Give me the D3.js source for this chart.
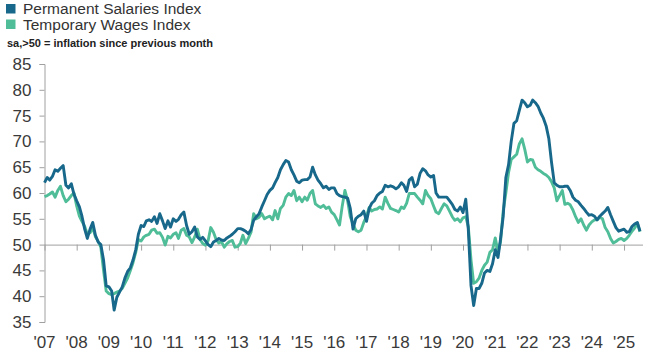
<!DOCTYPE html>
<html>
<head>
<meta charset="utf-8">
<script src="https://cdn.jsdelivr.net/npm/d3@7"></script>
<style>
  html, body { margin: 0; padding: 0; background: #fff; }
  svg { display: block; font-family: "Liberation Sans", Arial, sans-serif; }
</style>
</head>
<body>
<svg id="chart" width="666" height="357"></svg>
<script>
// ---- data (monthly, starting Jan 2007) ----
const startYear = 2007;
const startMonth = 0;
const seriesNames = ["Permanent Salaries Index", "Temporary Wages Index"];
const subtitle = "sa,>50 = inflation since previous month";
const yTicks = [35, 40, 45, 50, 55, 60, 65, 70, 75, 80, 85];
const tickYears = [2007,2008,2009,2010,2011,2012,2013,2014,2015,2016,2017,2018,2019,2020,2021,2022,2023,2024,2025];
const tickLabels = ["'07","'08","'09","'10","'11","'12","'13","'14","'15","'16","'17","'18","'19","'20","'21","'22","'23","'24","'25"];

const permanent = [
  62, 63, 62.5, 63.2, 64.5, 64.2, 64.8, 65.3, 61.5, 61, 61.8, 59.8,
  58.5, 57.3, 55.5, 53, 51.2, 53, 54.3, 51.8, 50.5, 50, 47, 42,
  41.8, 41, 37.3, 39.8, 40.8, 41.8, 43.5, 44.8, 45.5, 47, 49, 52,
  53.7, 53.5, 54.6, 54.8, 54.5, 55.4, 54.1, 56, 54.6, 53.1, 54.6, 53.4,
  55, 54.5, 54.9, 55.8, 56.3, 53.7, 52, 52.5, 53.4, 51.5, 51, 51.4,
  50.7, 50, 49.6, 50.5, 50.8, 51.2, 50.9, 50.8, 51.3, 51.6, 52, 52.5,
  53.1, 53.1, 52.9, 52.6, 52.1, 52.9, 54.7, 55.4, 56, 57.3, 58.5, 59.7,
  60.5, 61, 62, 63, 64.5, 65.5, 66.3, 66, 64.5, 63.5, 62.3, 62,
  62.5, 62.6, 62.6, 63.1, 65, 63.5, 62.5, 61.8, 61, 61.3, 60.7, 61,
  61, 59.9, 59.5, 59.3, 59.2, 59, 57, 53, 55, 55.5, 55.8, 56.5,
  54.5, 57, 58, 58.5, 59.5, 60, 60.3, 61.5, 61.2, 61.4, 61.2, 60.8,
  61.2, 62, 61.5, 60.3, 62.5, 63, 61.2, 61.7, 63.8, 64.7, 64.3, 63.5,
  63.1, 63.4, 60, 59.2, 59.2, 59.2, 59.2, 58.5, 57.8, 56.8, 56.5, 57.3,
  56.2, 58.8, 53, 42, 38.2, 41.5, 41.5, 42.5, 44.5, 45, 44.8, 46.3,
  49, 47.5, 51, 55.5, 63, 65.5, 70, 73.5, 74, 76, 78, 77.5,
  76.7, 77, 78, 77.5, 76.8, 75.5, 74.5, 73, 70.5, 66, 62, 61.5,
  61.2, 61.2, 61.3, 61.3, 60.5, 59.2, 58.6, 58.3, 57.6, 57, 56.3, 55.7,
  55.8, 55.5, 54.8, 55.5, 56, 56.5, 57.2, 55.8, 54.5, 53.3, 52.6, 52.8,
  53, 52.4, 52.5, 53.5, 54, 54.3, 52.6
];

const temporary = [
  59.3, 59.5, 59.8, 60.2, 59.2, 60.5, 61.3, 59.5, 58.3, 58.8, 59.5, 60,
  57.5, 55.5, 54.5, 53.5, 52, 52.3, 53.3, 51.5, 50.6, 49.5, 45, 41,
  40.5, 40.3, 40.5, 40.8, 41, 41.5, 42.5, 43.5, 45, 46.5, 48.5, 51,
  50.7, 51.5, 51.8, 52, 52.8, 53, 52.2, 52.3, 51.4, 49.9, 51.6, 51.3,
  52, 52.3, 51.2, 52.8, 53.1, 51.8, 51.5, 50.4, 51.5, 53, 51, 50.2,
  49.9, 50.8, 53.3, 52.4, 51, 50.3, 50.6, 49.5, 50.2, 50.6, 50.8, 49.5,
  49.6, 50.3, 51.8, 50.2, 51.2, 52.4, 56, 55, 55.3, 56, 55, 55.3,
  55.5, 54.8, 56.6, 55, 57, 57.6, 59.2, 59.9, 59.5, 60.5, 58.5, 59.2,
  58.3, 59.2, 58.6, 59.9, 60.5, 57.9, 57.5, 57.2, 57.6, 57, 57.3, 56.3,
  55.8, 54.8, 53.8, 57.5, 60.5, 58.5, 55.4, 54, 52.8, 52.5, 52.8, 54.3,
  55.5, 57.2, 56.5, 56.8, 56.9, 57.3, 56.9, 59.2, 58, 57, 56.8, 56.6,
  56.3, 57.3, 57, 58, 59.9, 59.9, 59.9, 59.2, 58.6, 57.9, 60.5, 59.5,
  58.9, 57.5, 56.3, 56, 57, 57.9, 57.5, 56.5, 55.4, 54.7, 55, 54.4,
  55.2, 55.4, 53.5, 47, 42.5, 42.8, 43.5, 45, 46, 46.6, 48.5, 49,
  51.3, 48.5, 50.5, 56.5, 60, 64, 66.5, 67, 67.5, 69.5, 70.5, 68.5,
  66, 66.5, 66.4, 65, 64.5, 64.2, 63.8, 63.5, 63, 62.2, 61, 58.5,
  59.5, 60.5, 57.8, 58, 57.7, 56.7, 55.4, 54.3, 55, 53.8, 52.8, 53.8,
  54.4, 54.8, 54.8, 55.3, 55, 53.3, 52.5, 51.2, 50.3, 50.6, 51, 51.2,
  50.8, 51.2, 51.8, 52.6, 53.2, 54.1, 52.5
];

const colors = ["#17688a", "#4fbd98"];

// ---- chart ----
const svg = d3.select("#chart");
const monthDate = i => new Date(startYear, startMonth + i, 1);
const n = permanent.length;

const x = d3.scaleTime()
  .domain([monthDate(0), monthDate(n - 1)])
  .range([44.5, 640]);
const y = d3.scaleLinear().domain([35, 85]).range([322, 64]);

const axisColor = "#a0a0a0";
const textColor = "#3a3a3a";

// Y axis
const yAxis = svg.append("g").attr("transform", "translate(44.5,0)")
  .call(d3.axisLeft(y).tickValues(yTicks).tickSize(5).tickPadding(8));
yAxis.select(".domain").attr("stroke", axisColor);
yAxis.selectAll(".tick line").attr("stroke", axisColor);
yAxis.selectAll(".tick text")
  .attr("fill", textColor)
  .style("font-size", "17px")
  .style("font-family", "'Liberation Sans', Arial, sans-serif");

// X axis along the 50 line
const xAxis = svg.append("g").attr("transform", `translate(0,${y(50)})`)
  .call(d3.axisBottom(x)
    .tickValues(tickYears.map(yr => new Date(yr, 0, 1)))
    .tickFormat(() => "")
    .tickSize(6)
    .tickSizeOuter(0));
xAxis.select(".domain").attr("stroke", axisColor).attr("d", `M44.5,0.5H643`);
xAxis.selectAll(".tick line").attr("stroke", axisColor);

// X labels at bottom
svg.append("g").selectAll("text")
  .data(tickYears)
  .join("text")
  .attr("x", d => x(new Date(d, 0, 1)))
  .attr("y", 347.5)
  .attr("text-anchor", "middle")
  .attr("fill", textColor)
  .style("font-size", "17px")
  .text((d, i) => tickLabels[i]);

// Lines
const line = d3.line()
  .x((d, i) => x(monthDate(i)))
  .y(d => y(d));

[temporary, permanent].forEach((series, k) => {
  svg.append("path")
    .datum(series)
    .attr("fill", "none")
    .attr("stroke", k === 0 ? colors[1] : colors[0])
    .attr("stroke-width", 2.9)
    .attr("stroke-linejoin", "round")
    .attr("d", line);
});

// Legend
const legend = svg.append("g");
seriesNames.forEach((name, i) => {
  legend.append("rect")
    .attr("x", 6).attr("y", 4 + i * 15.5)
    .attr("width", 9.5).attr("height", 9.5)
    .attr("fill", colors[i]);
  legend.append("text")
    .attr("x", 23).attr("y", 14 + i * 15.5)
    .attr("fill", "#333")
    .style("font-size", "15.5px")
    .text(name);
});
legend.append("text")
  .attr("x", 7).attr("y", 47)
  .attr("fill", "#222")
  .style("font-size", "11px")
  .style("font-weight", "600")
  .text(subtitle);
</script>
</body>
</html>
